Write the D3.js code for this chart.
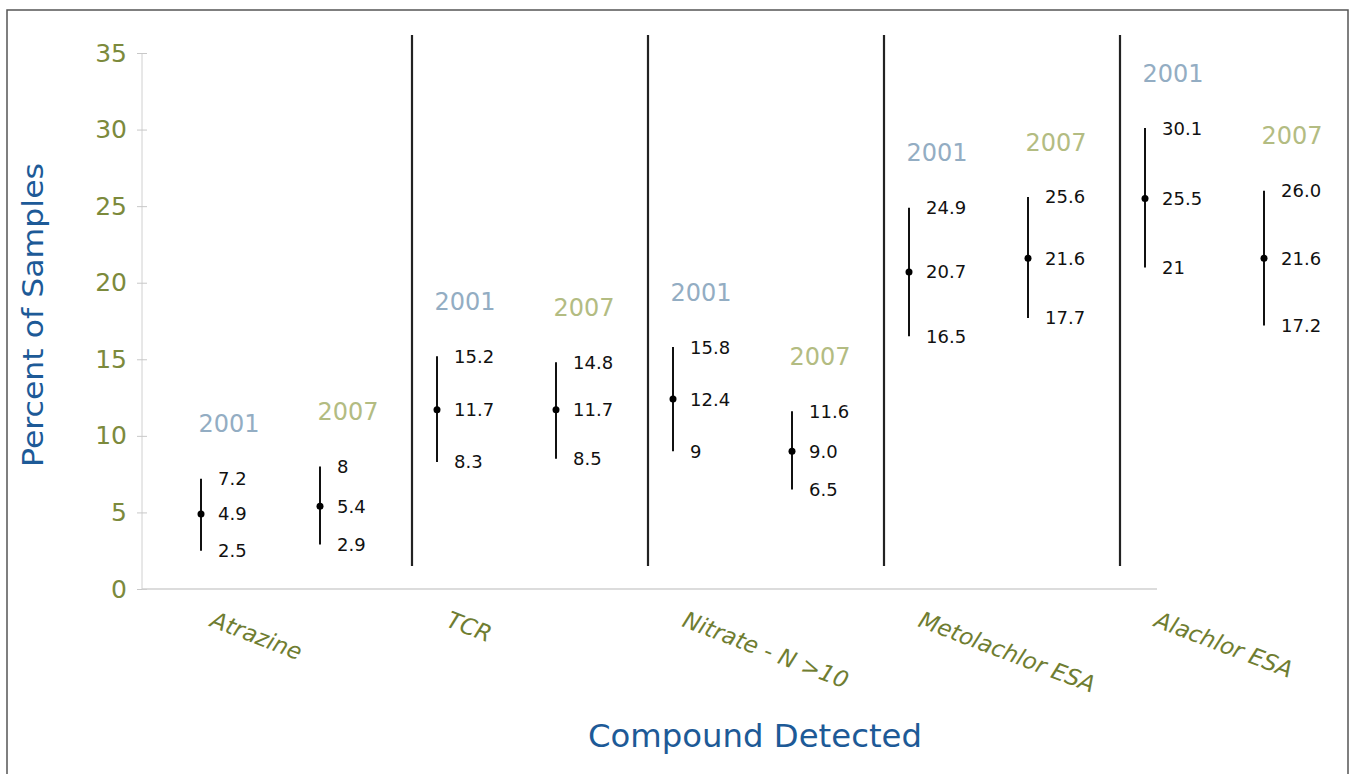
<!DOCTYPE html>
<html>
<head>
    <script src="https://d3js.org/d3.v7.min.js"></script>
    <style>
        body { margin: 0; background: #fff; }
        text { font-family: "DejaVu Sans", sans-serif; }
    </style>
</head>
<body>
    <svg width="1351" height="774"></svg>
    <script>
        const compounds = ["Atrazine", "TCR", "Nitrate - N >10", "Metolachlor ESA", "Alachlor ESA"];
        const years = ["2001", "2007"];
        // [low, mid, high] per compound, per year
        const low2001 = [2.5, 8.3, 9, 16.5, 21];
        const mid2001 = [4.9, 11.7, 12.4, 20.7, 25.5];
        const high2001 = [7.2, 15.2, 15.8, 24.9, 30.1];
        const low2007 = [2.9, 8.5, 6.5, 17.7, 17.2];
        const mid2007 = [5.4, 11.7, 9.0, 21.6, 21.6];
        const high2007 = [8, 14.8, 11.6, 25.6, 26.0];
        // labels as printed
        const lowText2001 = ["2.5", "8.3", "9", "16.5", "21"];
        const midText2001 = ["4.9", "11.7", "12.4", "20.7", "25.5"];
        const highText2001 = ["7.2", "15.2", "15.8", "24.9", "30.1"];
        const lowText2007 = ["2.9", "8.5", "6.5", "17.7", "17.2"];
        const midText2007 = ["5.4", "11.7", "9.0", "21.6", "21.6"];
        const highText2007 = ["8", "14.8", "11.6", "25.6", "26.0"];
        const yTicks = [0, 5, 10, 15, 20, 25, 30, 35];

        const rows = [];
        compounds.forEach((c, i) => {
            rows.push({ c: c, year: "2001", lo: low2001[i], mid: mid2001[i], hi: high2001[i],
                loT: lowText2001[i], midT: midText2001[i], hiT: highText2001[i] });
            rows.push({ c: c, year: "2007", lo: low2007[i], mid: mid2007[i], hi: high2007[i],
                loT: lowText2007[i], midT: midText2007[i], hiT: highText2007[i] });
        });

        const axisLeftX = 142, axisRightX = 1157, plotTop = 35, plotBottom = 589;
        const yearColor = { "2001": "#93adc3", "2007": "#b3bc82" };
        const olive = "#6f7d31", blue = "#1d5a97";

        const svg = d3.select("svg");

        // frame
        svg.append("rect")
            .attr("x", 7).attr("y", 10)
            .attr("width", 1341).attr("height", 800)
            .attr("fill", "none")
            .attr("stroke", "#555")
            .attr("stroke-width", 1.5);

        const yScale = d3.scaleLinear().domain([0, 35]).range([plotBottom, 53]);
        const xScale = d3.scaleBand().domain(compounds).range([176, 1356]);
        const xSub = d3.scalePoint().domain(years).range([25, 144]);

        // y axis
        const yAxis = svg.append("g")
            .attr("transform", "translate(" + axisLeftX + ",0)")
            .call(d3.axisLeft(yScale).tickValues(yTicks).tickSize(5).tickPadding(10));
        yAxis.select(".domain").attr("stroke", "#d0d0d0").attr("d", "M0," + yScale(35) + "V" + plotBottom);
        yAxis.selectAll(".tick line").attr("stroke", "#c8c8c8").attr("x1", 5).attr("x2", -5);
        yAxis.selectAll(".tick text")
            .attr("fill", "#7c8a3c")
            .style("font-size", "25px")
            .style("font-family", "DejaVu Sans, sans-serif");

        // x axis line
        svg.append("line")
            .attr("x1", axisLeftX).attr("x2", axisRightX)
            .attr("y1", plotBottom).attr("y2", plotBottom)
            .attr("stroke", "#d0d0d0").attr("stroke-width", 1.5);

        // group dividers
        svg.selectAll(".divider")
            .data(compounds.slice(1))
            .enter()
            .append("line")
            .attr("x1", d => xScale(d)).attr("x2", d => xScale(d))
            .attr("y1", plotTop).attr("y2", 566)
            .attr("stroke", "#222").attr("stroke-width", 2.2);

        const px = d => xScale(d.c) + xSub(d.year);

        const g = svg.selectAll(".pt")
            .data(rows)
            .enter()
            .append("g");

        g.append("line")
            .attr("x1", px).attr("x2", px)
            .attr("y1", d => yScale(d.lo)).attr("y2", d => yScale(d.hi))
            .attr("stroke", "#111").attr("stroke-width", 2);

        g.append("circle")
            .attr("cx", px).attr("cy", d => yScale(d.mid))
            .attr("r", 3.5).attr("fill", "#000");

        const valueLabel = (key, val) => g.append("text")
            .attr("x", d => px(d) + 17)
            .attr("y", d => yScale(d[val]))
            .attr("dy", "0.36em")
            .attr("fill", "#111")
            .style("font-size", "18px")
            .text(d => d[key]);
        valueLabel("hiT", "hi");
        valueLabel("midT", "mid");
        valueLabel("loT", "lo");

        g.append("text")
            .attr("x", d => px(d) + 28)
            .attr("y", d => yScale(d.hi) - 55)
            .attr("dy", "0.36em")
            .attr("text-anchor", "middle")
            .attr("fill", d => yearColor[d.year])
            .style("font-size", "24px")
            .text(d => d.year);

        // category labels
        svg.selectAll(".cat")
            .data(compounds)
            .enter()
            .append("text")
            .attr("transform", d => "translate(" + (xScale(d) + 33) + ",626) rotate(21)")
            .attr("fill", olive)
            .style("font-size", "23px")
            .style("font-style", "italic")
            .text(d => d);

        // axis titles
        svg.append("text")
            .attr("transform", "translate(43,315) rotate(-90)")
            .attr("text-anchor", "middle")
            .attr("fill", blue)
            .attr("textLength", 304)
            .attr("lengthAdjust", "spacingAndGlyphs")
            .style("font-size", "29px")
            .text("Percent of Samples");

        svg.append("text")
            .attr("x", 755).attr("y", 747)
            .attr("text-anchor", "middle")
            .attr("fill", blue)
            .attr("textLength", 334)
            .attr("lengthAdjust", "spacingAndGlyphs")
            .style("font-size", "32px")
            .text("Compound Detected");
    </script>
</body>
</html>
